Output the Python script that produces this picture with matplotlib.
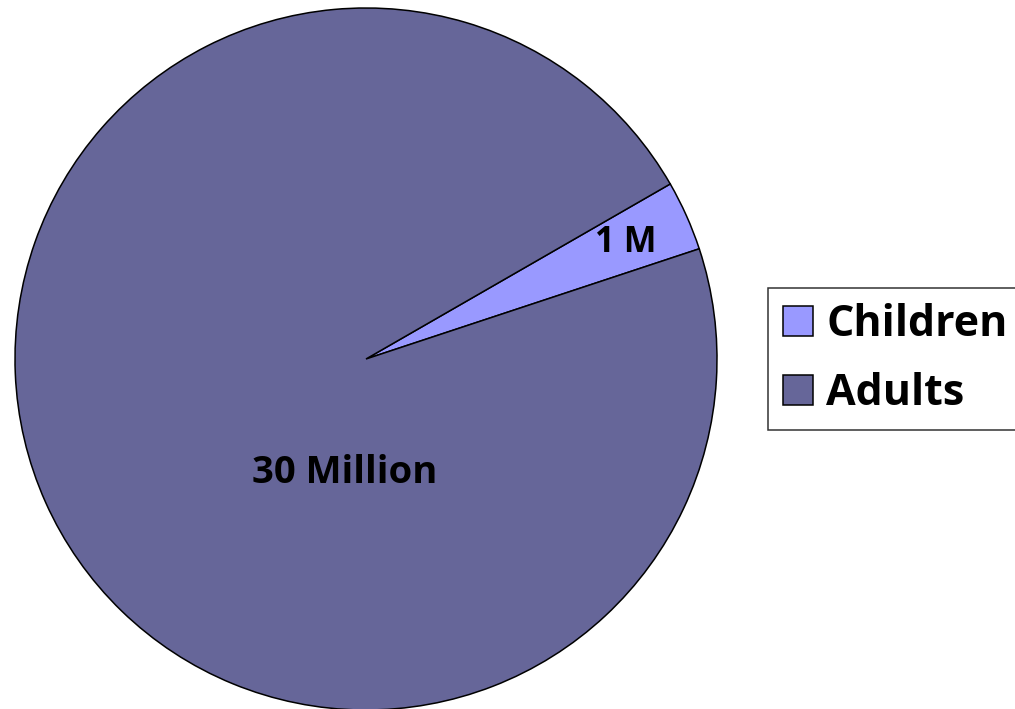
import numpy as np
import matplotlib.pyplot as plt
from matplotlib.patches import Patch

# data
categories = ["Children", "Adults"]
values = [1, 30]
slice_labels = ["1 M", "30 Million"]
colors = ["#9999FF", "#666699"]

fig = plt.figure(figsize=(10.15, 7.09), dpi=100)
W, H = 1015, 709
cx, cy, r = 366, 359, 351
ax = fig.add_axes([(cx - r) / W, (H - cy - r) / H, 2 * r / W, 2 * r / H])

wedges, _ = ax.pie(values, colors=colors, startangle=18.3, counterclock=True,
                   radius=1.0, wedgeprops=dict(edgecolor="black", linewidth=1.1))
ax.set_xlim(-1.0, 1.0)
ax.set_ylim(-1.0, 1.0)
ax.set_aspect("equal")

# slice labels
ax.text(0.74, 0.33, slice_labels[0], ha="center", va="center",
        family="Open Sans", weight="bold", fontsize=25)
ax.text(-0.06, -0.325, slice_labels[1], ha="center", va="center",
        family="Open Sans", weight="bold", fontsize=27.5)

handles = [Patch(facecolor=c, edgecolor="black", linewidth=1.1) for c in colors]
leg = fig.legend(handles, categories, loc="upper left",
                 bbox_to_anchor=(768 / W, 1 - 288 / H), frameon=True,
                 fancybox=False, prop=dict(family="Open Sans", weight="bold", size=31),
                 handlelength=0.7, handleheight=0.7, handletextpad=0.3,
                 borderpad=0.35, labelspacing=0.6, borderaxespad=0)
leg.get_frame().set_edgecolor("black")
leg.get_frame().set_linewidth(1.1)

fig.savefig("out.png", dpi=100)
